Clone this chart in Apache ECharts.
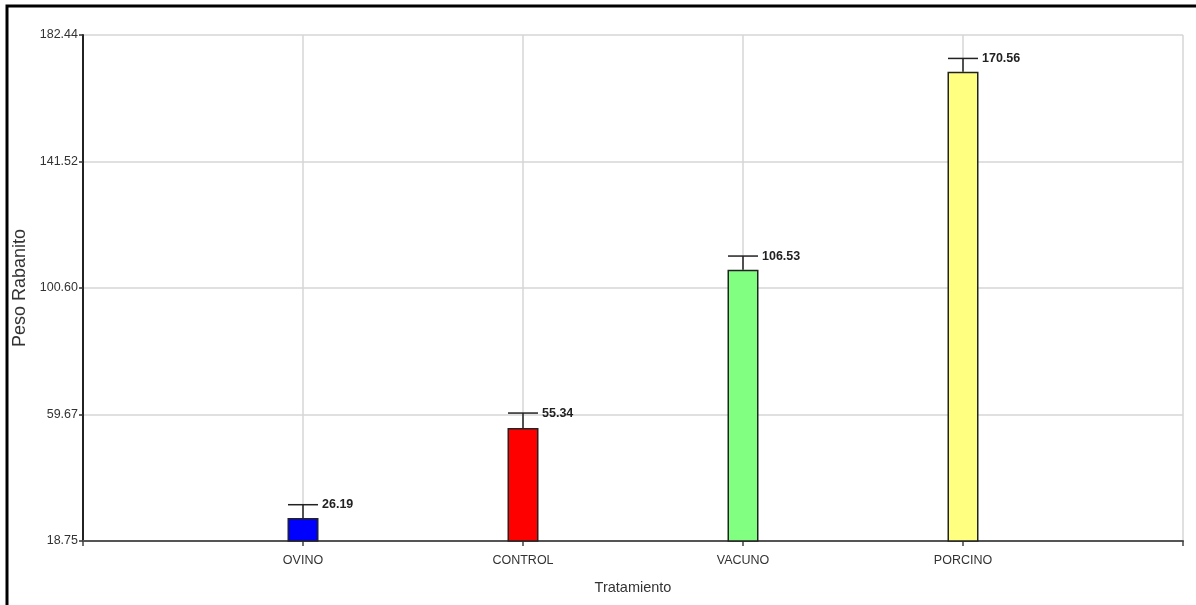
<!DOCTYPE html>
<html>
<head>
<meta charset="utf-8">
<script src="https://cdn.jsdelivr.net/npm/echarts@6/dist/echarts.min.js"></script>
<style>
  html, body { margin: 0; padding: 0; background: #ffffff; }
  #chart { width: 1196px; height: 605px; }
</style>
</head>
<body>
<div id="chart"></div>
<script>
// ---- data ----
const categories = ['OVINO', 'CONTROL', 'VACUNO', 'PORCINO'];
const means = [26.19, 55.34, 106.53, 170.56];
const errors = [4.3, 4.8, 4.4, 4.3];
const yTicks = [18.75, 59.67, 100.60, 141.52, 182.44];
const xAxisName = 'Tratamiento';
const yAxisName = 'Peso Rabanito';

// ---- style ----
const barColors = ['#0000ff', '#ff0000', '#80ff80', '#ffff80'];
const FONT = '"Liberation Sans", Arial, sans-serif';

const chart = echarts.init(document.getElementById('chart'), null, { renderer: 'canvas' });

const barData = categories.map((c, i) => ({
  value: [i + 1, means[i]],
  itemStyle: { color: barColors[i] }
}));
const errData = categories.map((c, i) => [i + 1, means[i], means[i] + errors[i], means[i]]);

const option = {
  backgroundColor: '#ffffff',
  animation: false,
  grid: { left: 83, right: 13, top: 35, bottom: 64, containLabel: false },
  graphic: [{
    type: 'rect',
    shape: { x: 7, y: 6, width: 1210, height: 620 },
    style: { fill: 'none', stroke: '#000', lineWidth: 3 },
    silent: true
  }],
  xAxis: {
    type: 'value',
    min: 0, max: 5, interval: 1,
    name: xAxisName,
    nameLocation: 'middle',
    nameGap: 39,
    nameTextStyle: { fontFamily: FONT, fontSize: 14.5, color: '#333' },
    axisLine: { show: true, lineStyle: { color: '#555', width: 2 } },
    axisTick: { show: true, length: 5, lineStyle: { color: '#444', width: 1.5 } },
    axisLabel: {
      margin: 13,
      fontFamily: FONT, fontSize: 12.5, color: '#333',
      formatter: v => (v >= 1 && v <= categories.length) ? categories[Math.round(v) - 1] : ''
    },
    splitLine: { show: true, lineStyle: { color: '#d6d6d6', width: 1.5 } }
  },
  yAxis: {
    type: 'value',
    min: yTicks[0], max: yTicks[yTicks.length - 1],
    name: yAxisName,
    nameLocation: 'middle',
    nameGap: 50,
    nameTextStyle: { fontFamily: FONT, fontSize: 18, color: '#333' },
    axisLine: { show: true, lineStyle: { color: '#222', width: 2 } },
    axisTick: { show: true, length: 4, customValues: yTicks, lineStyle: { color: '#333', width: 1.5 } },
    axisLabel: {
      margin: 5,
      customValues: yTicks,
      fontFamily: FONT, fontSize: 12.5, color: '#333',
      formatter: v => Number(v).toFixed(2)
    },
    splitLine: { show: true, lineStyle: { color: '#d6d6d6', width: 1.5 } }
  },
  series: [
    {
      type: 'bar',
      data: barData,
      barWidth: 31,
      itemStyle: { borderColor: '#222', borderWidth: 1.5 },
      z: 2
    },
    {
      type: 'custom',
      data: errData,
      z: 3,
      renderItem: function (params, api) {
        const x = api.value(0);
        const lo = api.coord([x, api.value(1)]);
        const hi = api.coord([x, api.value(2)]);
        const half = 15;
        const st = { stroke: '#222', lineWidth: 1.5 };
        return {
          type: 'group',
          children: [
            { type: 'line', shape: { x1: lo[0], y1: lo[1], x2: hi[0], y2: hi[1] }, style: st },
            { type: 'line', shape: { x1: hi[0] - half, y1: hi[1], x2: hi[0] + half, y2: hi[1] }, style: st },
            {
              type: 'text', x: hi[0] + half + 4, y: hi[1],
              style: {
                text: Number(api.value(3)).toFixed(2),
                fill: '#222',
                font: 'bold 12.5px ' + FONT,
                textAlign: 'left', textVerticalAlign: 'middle'
              }
            }
          ]
        };
      }
    }
  ]
};
chart.setOption(option);
</script>
</body>
</html>
